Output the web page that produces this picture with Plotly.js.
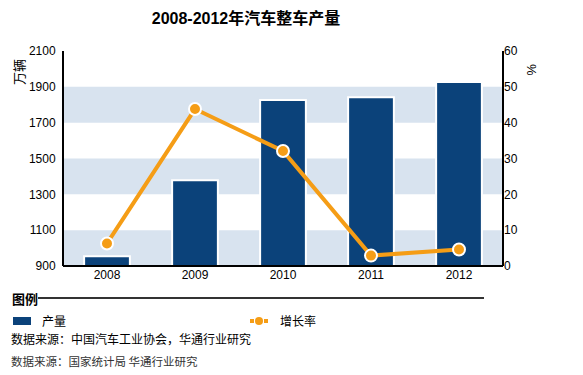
<!DOCTYPE html>
<html>
<head>
<meta charset="utf-8">
<script src="https://cdn.plot.ly/plotly-3.0.1.min.js"></script>
<style>html,body{margin:0;padding:0;background:#fff;}#chart{width:583px;height:375px;}</style>
</head>
<body>
<div id="chart"></div>
<script>
var years = ['2008', '2009', '2010', '2011', '2012'];
var production = [955, 1379.1, 1826.5, 1841.9, 1927.2];
var growthRate = [6.3, 43.8, 32.1, 2.9, 4.6];
var leftTicks = [900, 1100, 1300, 1500, 1700, 1900, 2100];
var rightTicks = [0, 10, 20, 30, 40, 50, 60];
var bandRanges = [[900, 1100], [1300, 1500], [1700, 1900]];

var W = 583, H = 375, L = 63, R = 503, T = 51, B = 266;
function px(x) { return (x - L) / (R - L); }
function py(y) { return (B - y) / (B - T); }

var fontFam = 'Arial, "Liberation Sans", "Noto Sans CJK SC", sans-serif';
var cjk = '"Noto Sans CJK SC", "Liberation Sans", sans-serif';
var barColor = '#0b427a';
var lineColor = '#f59d16';

var shapes = bandRanges.map(function (r) {
  return {type: 'rect', xref: 'paper', yref: 'y', x0: 0, x1: 1, y0: r[0], y1: r[1],
    fillcolor: '#d8e3ef', line: {width: 0}, layer: 'below'};
});
shapes.push({type: 'line', xref: 'paper', yref: 'paper', x0: 0, x1: 0, y0: 0, y1: 1, line: {color: '#000', width: 2}});
shapes.push({type: 'line', xref: 'paper', yref: 'paper', x0: 1, x1: 1, y0: 0, y1: 1, line: {color: '#000', width: 2}});
shapes.push({type: 'line', xref: 'paper', yref: 'paper', x0: 0, x1: 1, y0: 0, y1: 0, line: {color: '#000', width: 2}});
shapes.push({type: 'line', xref: 'paper', yref: 'paper', x0: px(38), x1: px(484), y0: py(298), y1: py(298), line: {color: '#333', width: 2}});
shapes.push({type: 'rect', xref: 'paper', yref: 'paper', x0: px(13), x1: px(31), y0: py(325), y1: py(317), fillcolor: barColor, line: {width: 0}});
shapes.push({type: 'line', xref: 'paper', yref: 'paper', x0: px(250), x1: px(254), y0: py(321), y1: py(321), line: {color: lineColor, width: 4}});
shapes.push({type: 'line', xref: 'paper', yref: 'paper', x0: px(264), x1: px(268), y0: py(321), y1: py(321), line: {color: lineColor, width: 4}});
shapes.push({type: 'circle', xref: 'paper', yref: 'paper', x0: px(255), x1: px(263), y0: py(325), y1: py(317), fillcolor: lineColor, line: {width: 0}});

function ann(text, x, y, opts) {
  var a = {text: text, xref: 'paper', yref: 'paper', x: px(x), y: py(y), xanchor: 'left', yanchor: 'middle',
    showarrow: false, font: {family: cjk, size: 12, color: '#000'}};
  for (var k in opts) a[k] = opts[k];
  return a;
}
var annotations = [
  ann('万辆', 18, 72, {textangle: -90, xanchor: 'center', font: {family: cjk, size: 13, color: '#000'}}),
  ann('%', 531, 70, {textangle: 90, xanchor: 'center', font: {family: fontFam, size: 13, color: '#000'}}),
  ann('<b>图例</b>', 10, 298, {font: {family: cjk, size: 13, color: '#000'}}),
  ann('产量', 40, 320),
  ann('增长率', 278, 320),
  ann('数据来源：中国汽车工业协会，华通行业研究', 9, 338),
  ann('数据来源：国家统计局 华通行业研究', 9, 361, {font: {family: cjk, size: 11.5, color: '#333'}})
];

var data = [
  {type: 'bar', x: years, y: production, name: '产量', yaxis: 'y', width: 0.52,
    marker: {color: barColor, line: {color: '#fff', width: 2}}},
  {type: 'scatter', mode: 'lines+markers', x: years, y: growthRate, name: '增长率', yaxis: 'y2',
    line: {color: lineColor, width: 4}, marker: {color: lineColor, size: 12, line: {color: '#fff', width: 2}}}
];

var layout = {
  width: W, height: H,
  margin: {l: L, r: W - R, t: T, b: H - B, pad: 0},
  paper_bgcolor: '#fff', plot_bgcolor: '#fff',
  showlegend: false,
  title: {text: '<b>2008-2012年汽车整车产量</b>', x: 246 / W, xref: 'container', xanchor: 'center',
    y: 1 - 18 / H, yref: 'container', yanchor: 'middle',
    font: {family: fontFam, size: 16, color: '#000'}},
  xaxis: {type: 'category', range: [-0.5, 4.5], showgrid: false, zeroline: false, showline: false,
    ticks: '', tickfont: {family: fontFam, size: 12, color: '#000'}, fixedrange: true},
  yaxis: {range: [900, 2100], tickvals: leftTicks, showgrid: false, zeroline: false,
    showline: false, ticks: 'outside', ticklen: 4, tickcolor: 'rgba(0,0,0,0)', tickfont: {family: fontFam, size: 12, color: '#000'}, fixedrange: true},
  yaxis2: {range: [0, 60], tickvals: rightTicks, overlaying: 'y', side: 'right', showgrid: false, zeroline: false,
    showline: false, ticks: '', tickfont: {family: fontFam, size: 12, color: '#000'}, fixedrange: true},
  shapes: shapes,
  annotations: annotations
};

Plotly.newPlot('chart', data, layout, {displayModeBar: false, staticPlot: true});
</script>
</body>
</html>
